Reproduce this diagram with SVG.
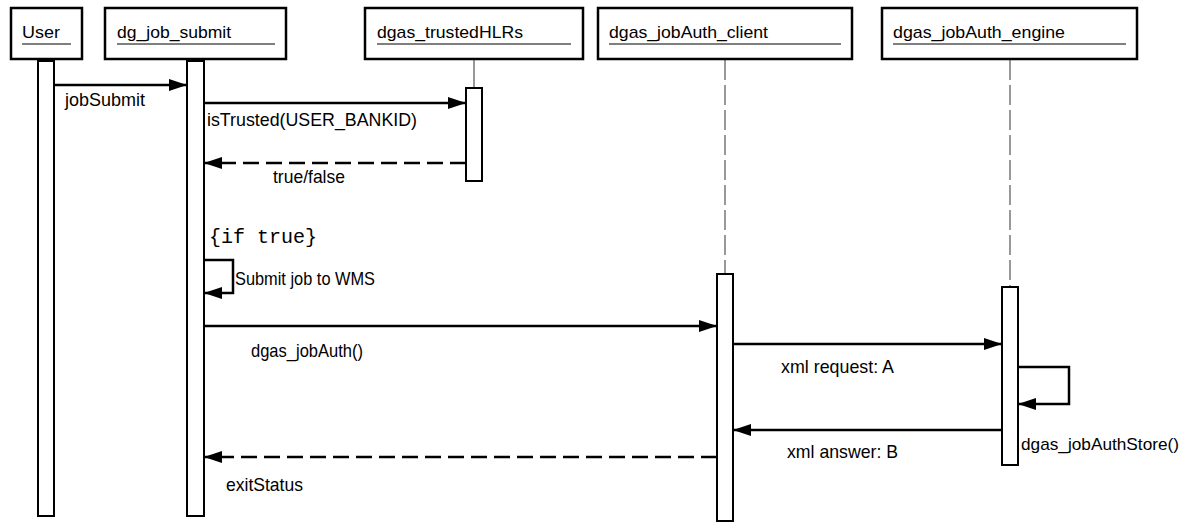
<svg xmlns="http://www.w3.org/2000/svg" width="1188" height="523" viewBox="0 0 1188 523">
<defs>
<style>
.box{fill:#fff;stroke:#000;stroke-width:2.5}
.act{fill:#fff;stroke:#000;stroke-width:2}
.hdr{font-family:"Liberation Sans",Arial,sans-serif;font-size:17px;fill:#000}
.ul{stroke:#000;stroke-width:1.2}
.life{stroke:#555;stroke-width:1.2;fill:none}
.dash{stroke-dasharray:20 5}
.msg{stroke:#000;stroke-width:2.5;fill:none;marker-end:url(#ah)}
.ret{stroke-dasharray:16 7}
.lbl{font-family:"Liberation Sans",Arial,sans-serif;font-size:19px;fill:#000}
.mono{font-family:"Liberation Mono","Courier New",monospace;font-size:20px;fill:#000}
</style>
<marker id="ah" markerUnits="userSpaceOnUse" markerWidth="20" markerHeight="14" refX="18" refY="6" orient="auto">
<path d="M0,0 L18,6 L0,12 Z" fill="#000"/>
</marker>
</defs>
<rect width="1188" height="523" fill="#fff"/>

<g id="connectors">
<line class="life" x1="474" y1="60" x2="474" y2="88"/>
<line class="life dash" x1="725" y1="60" x2="725" y2="274"/>
<line class="life dash" x1="1010" y1="60" x2="1010" y2="287"/>
</g>

<g id="User">
<rect class="box" x="11" y="8" width="71" height="51"/>
<text class="hdr" x="22" y="38" textLength="38" lengthAdjust="spacingAndGlyphs">User</text>
<line class="ul" x1="22" y1="44" x2="71" y2="44"/>
<rect class="act" x="38" y="61" width="16" height="455"/>
</g>

<g id="dg_job_submit">
<rect class="box" x="105" y="8" width="181" height="51"/>
<text class="hdr" x="117" y="38" textLength="114" lengthAdjust="spacingAndGlyphs">dg_job_submit</text>
<line class="ul" x1="117" y1="44" x2="275" y2="44"/>
<rect class="act" x="187" y="61" width="17" height="455"/>
</g>

<g id="dgas_trustedHLRs">
<rect class="box" x="365" y="8" width="218" height="51"/>
<text class="hdr" x="377" y="38" textLength="146" lengthAdjust="spacingAndGlyphs">dgas_trustedHLRs</text>
<line class="ul" x1="377" y1="44" x2="571" y2="44"/>
<rect class="act" x="466" y="88" width="16" height="93"/>
</g>

<g id="dgas_jobAuth_client">
<rect class="box" x="598" y="8" width="254" height="51"/>
<text class="hdr" x="609" y="38" textLength="159" lengthAdjust="spacingAndGlyphs">dgas_jobAuth_client</text>
<line class="ul" x1="609" y1="44" x2="841" y2="44"/>
<rect class="act" x="717" y="274" width="16" height="247"/>
</g>

<g id="dgas_jobAuth_engine">
<rect class="box" x="882" y="8" width="255" height="51"/>
<text class="hdr" x="893" y="38" textLength="172" lengthAdjust="spacingAndGlyphs">dgas_jobAuth_engine</text>
<line class="ul" x1="893" y1="44" x2="1126" y2="44"/>
<rect class="act" x="1002" y="287" width="16" height="178"/>
</g>

<g id="messages">
<line class="msg" x1="54" y1="85" x2="187" y2="85"/>
<text class="lbl" x="65" y="106" textLength="80" lengthAdjust="spacingAndGlyphs">jobSubmit</text>

<line class="msg" x1="204" y1="103" x2="466" y2="103"/>
<text class="lbl" x="207" y="126" textLength="210" lengthAdjust="spacingAndGlyphs">isTrusted(USER_BANKID)</text>

<line class="msg ret" x1="466" y1="163" x2="204" y2="163"/>
<text class="lbl" x="273" y="183" textLength="72" lengthAdjust="spacingAndGlyphs">true/false</text>

<text class="mono" x="209" y="243" textLength="108" lengthAdjust="spacingAndGlyphs">{if true}</text>

<path class="msg" d="M204,260 H233 V293 H204"/>
<text class="lbl" x="235" y="285" textLength="140" lengthAdjust="spacingAndGlyphs">Submit job to WMS</text>

<line class="msg" x1="204" y1="326" x2="717" y2="326"/>
<text class="lbl" x="251" y="357" textLength="112" lengthAdjust="spacingAndGlyphs">dgas_jobAuth()</text>

<line class="msg" x1="733" y1="344" x2="1002" y2="344"/>
<text class="lbl" x="781" y="373" textLength="113" lengthAdjust="spacingAndGlyphs">xml request: A</text>

<path class="msg" d="M1018,367 H1069 V404 H1018"/>
<text class="lbl" x="1021" y="450" style="font-size:17px" textLength="158" lengthAdjust="spacingAndGlyphs">dgas_jobAuthStore()</text>

<line class="msg" x1="1002" y1="430" x2="733" y2="430"/>
<text class="lbl" x="787" y="458" textLength="111" lengthAdjust="spacingAndGlyphs">xml answer: B</text>

<line class="msg ret" x1="717" y1="457" x2="204" y2="457"/>
<text class="lbl" x="226" y="491" textLength="77" lengthAdjust="spacingAndGlyphs">exitStatus</text>
</g>
</svg>
